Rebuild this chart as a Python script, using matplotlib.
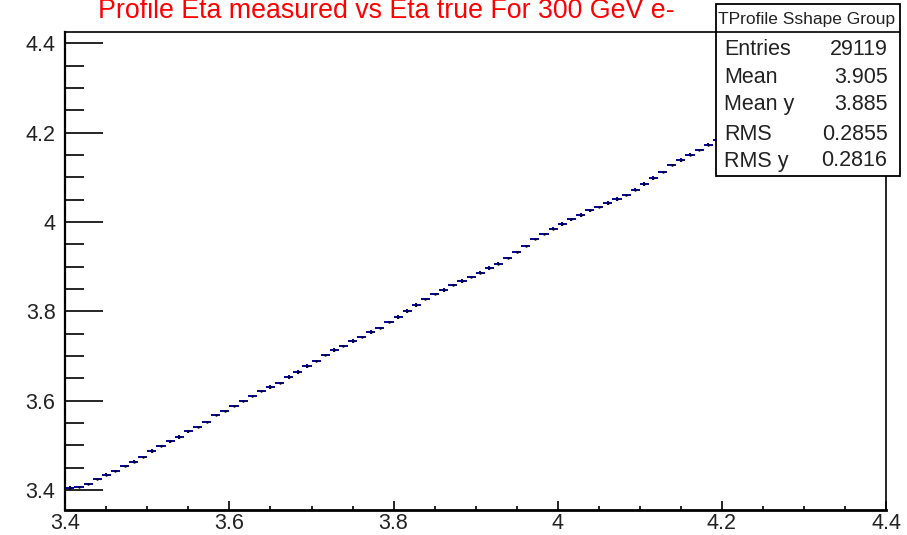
import numpy as np
import matplotlib
matplotlib.use("Agg")
import matplotlib.pyplot as plt
from matplotlib.patches import Rectangle
from matplotlib.lines import Line2D
from matplotlib.ticker import FixedLocator, MultipleLocator

plt.rcParams['font.family'] = ['Liberation Sans', 'DejaVu Sans']

# ---------------- data ----------------
title = "Profile Eta measured vs Eta true For 300 GeV e-"
x_low, x_high, n_bins = 3.4, 4.4, 90          # profile binning
profile_y = [
    3.4036, 3.4067, 3.4138, 3.4239, 3.4340, 3.4431, 3.4532, 3.4633, 3.4744, 3.4876,
    3.4987, 3.5088, 3.5179, 3.5310, 3.5411, 3.5522, 3.5673, 3.5774, 3.5886, 3.5997,
    3.6098, 3.6209, 3.6310, 3.6401, 3.6532, 3.6643, 3.6774, 3.6886, 3.7017, 3.7128,
    3.7219, 3.7340, 3.7431, 3.7532, 3.7633, 3.7754, 3.7876, 3.8007, 3.8138, 3.8269,
    3.8390, 3.8481, 3.8582, 3.8683, 3.8764, 3.8866, 3.8967, 3.9068, 3.9189, 3.9320,
    3.9471, 3.9612, 3.9733, 3.9854, 3.9956, 4.0057, 4.0158, 4.0259, 4.0340, 4.0431,
    4.0522, 4.0613, 4.0724, 4.0846, 4.0987, 4.1128, 4.1269, 4.1390, 4.1511, 4.1622,
    4.1733, 4.1844,
]
profile_err = [
    0.004, 0.002, 0.002, 0.002, 0.004, 0.002, 0.002, 0.004, 0.002, 0.004,
    0.002, 0.004, 0.004, 0.004, 0.002, 0.002, 0.002, 0.002, 0.002, 0.002,
    0.002, 0.002, 0.004, 0.002, 0.004, 0.004, 0.004, 0.002, 0.002, 0.004,
    0.002, 0.004, 0.002, 0.004, 0.002, 0.002, 0.004, 0.004, 0.004, 0.002,
    0.002, 0.004, 0.002, 0.004, 0.002, 0.004, 0.004, 0.004, 0.002, 0.002,
    0.002, 0.002, 0.002, 0.004, 0.004, 0.004, 0.004, 0.004, 0.002, 0.004,
    0.004, 0.002, 0.004, 0.004, 0.004, 0.002, 0.002, 0.004, 0.004, 0.002,
    0.004, 0.004,
]
x_ticks = [3.4, 3.6, 3.8, 4.0, 4.2, 4.4]
x_ticklabels = ["3.4", "3.6", "3.8", "4", "4.2", "4.4"]
y_ticks = [3.4, 3.6, 3.8, 4.0, 4.2, 4.4]
y_ticklabels = ["3.4", "3.6", "3.8", "4", "4.2", "4.4"]
y_range = (3.356, 4.425)

stats_title = "TProfile Sshape Group"
stats_names = ["Entries", "Mean", "Mean y", "RMS", "RMS y"]
stats_values = ["29119", "3.905", "3.885", "0.2855", "0.2816"]

# ---------------- figure ----------------
W, H = 907, 535
fig = plt.figure(figsize=(W / 100, H / 100), dpi=100)
fig.patch.set_facecolor("white")


def fx(px):
    return px / W


def fy(py):
    return 1 - py / H


ax_l, ax_r, ax_t, ax_b = 65.3, 886.0, 32.3, 509.5
ax = fig.add_axes([fx(ax_l), fy(ax_b), fx(ax_r - ax_l), (ax_b - ax_t) / H])

bw = (x_high - x_low) / n_bins
centers = x_low + bw * (np.arange(len(profile_y)) + 0.5)
ax.errorbar(centers, profile_y, xerr=bw / 2, yerr=profile_err, fmt='none',
            ecolor='#000099', elinewidth=1.4, capsize=0)
ax.plot(centers, profile_y, linestyle='none', marker='.', markersize=1.5,
        color='black')

ax.set_xlim(x_low, x_high)
ax.set_ylim(*y_range)

ax.xaxis.set_major_locator(FixedLocator(x_ticks))
ax.set_xticklabels(x_ticklabels)
ax.xaxis.set_minor_locator(MultipleLocator(0.05))
ax.yaxis.set_major_locator(FixedLocator(y_ticks))
ax.set_yticklabels(y_ticklabels)
ax.yaxis.set_minor_locator(MultipleLocator(0.05))

ax.tick_params(axis='x', which='major', direction='in', length=6.7, width=1.2,
               labelsize=15.5, pad=2.5, top=False)
ax.tick_params(axis='x', which='minor', direction='in', length=3.0, width=1.2,
               top=False)
ax.tick_params(axis='y', which='major', direction='in', length=27.4, width=1.2,
               labelsize=15.5, pad=7, right=False)
ax.tick_params(axis='y', which='minor', direction='in', length=13.5, width=1.2,
               right=False)
for lab in ax.get_xticklabels() + ax.get_yticklabels():
    lab.set_color('#222222')
for s in ax.spines.values():
    s.set_linewidth(1.2)
ax.spines['bottom'].set_linewidth(2.0)
ax.spines['left'].set_linewidth(1.6)

# title
fig.text(fx(98), fy(18.5), title, color='#ff0000', fontsize=19.3,
         ha='left', va='baseline')

# stats box
bx0, bx1, by0, by1 = 716, 899.5, 4, 176
fig.add_artist(Rectangle((fx(bx0), fy(by1)), fx(bx1 - bx0), (by1 - by0) / H,
                         transform=fig.transFigure, facecolor='white',
                         edgecolor='black', linewidth=1.3, zorder=5))
fig.add_artist(Line2D([fx(bx0), fx(bx1)], [fy(ax_t), fy(ax_t)],
                      transform=fig.transFigure, color='black', linewidth=1.2,
                      zorder=6))
fig.text(fx(807), fy(24), stats_title, fontsize=12.5, ha='center',
         va='baseline', color='#222222', zorder=7)
row_baselines = [55, 83, 110, 140, 166.5]
for name, val, yb in zip(stats_names, stats_values, row_baselines):
    fig.text(fx(724), fy(yb), name, fontsize=15.5, ha='left', va='baseline',
             color='#222222', zorder=7)
    fig.text(fx(887.5), fy(yb), val, fontsize=15.5, ha='right', va='baseline',
             color='#222222', zorder=7)

fig.savefig("out.png", dpi=100)
